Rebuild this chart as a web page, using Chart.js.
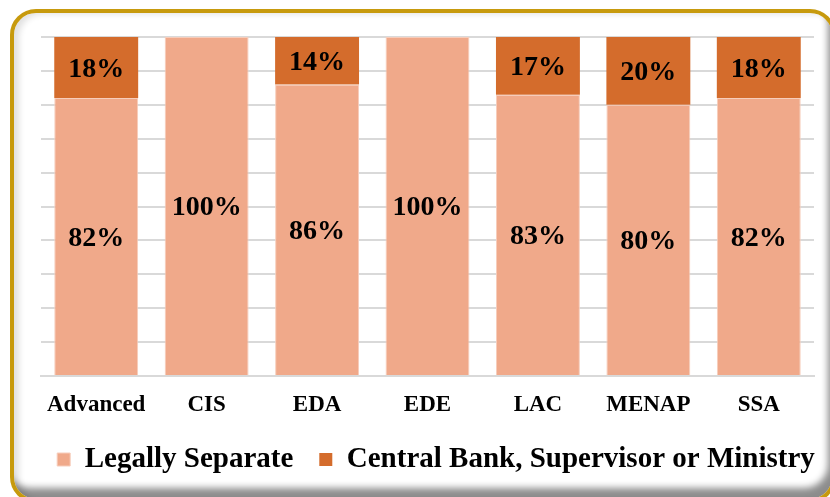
<!DOCTYPE html>
<html>
<head>
<meta charset="utf-8">
<script src="https://cdn.jsdelivr.net/npm/chart.js@4"></script>
<style>
  body { margin: 0; background: #fff; overflow: hidden; }
  .frame {
    position: absolute; left: 10px; top: 9px; width: 826px; height: 494px;
    box-sizing: border-box;
    border: 4px solid #C79A0D; border-radius: 26px;
    box-shadow: inset -6px -13px 7px -2px rgba(0,0,0,0.45), inset 6px 2px 6px -1px rgba(0,0,0,0.12);
  }
  #chart { position: absolute; left: 0; top: 0; }
</style>
</head>
<body>
<div class="frame"></div>
<canvas id="chart" width="830" height="497"></canvas>
<script>
const regions = ['Advanced', 'CIS', 'EDA', 'EDE', 'LAC', 'MENAP', 'SSA'];
const legallySeparate = [82, 100, 86, 100, 83, 80, 82];
const centralBank = [18, 0, 14, 0, 17, 20, 18];

const serif = '"Liberation Serif", "Times New Roman", serif';

// draws the percentage in the middle of each segment
const barLabels = {
  id: 'barLabels',
  afterDatasetsDraw(chart) {
    const c = chart.ctx;
    c.save();
    c.font = 'bold 28px ' + serif;
    c.fillStyle = '#000';
    c.textAlign = 'center';
    c.textBaseline = 'middle';
    chart.data.datasets.forEach((ds, i) => {
      chart.getDatasetMeta(i).data.forEach((bar, j) => {
        const v = ds.data[j];
        if (!v) return;
        c.fillText(v + '%', bar.x, (bar.y + bar.base) / 2 + 2);
      });
    });
    c.restore();
  }
};

// nudge the legend to the right so it sits like the original
const legendShift = {
  id: 'legendShift',
  afterLayout(chart) {
    chart.legend.left += 29;
    chart.legend.right += 29;
  }
};

new Chart(document.getElementById('chart').getContext('2d'), {
  type: 'bar',
  data: {
    labels: regions,
    datasets: [
      {
        label: 'Legally Separate',
        data: legallySeparate,
        backgroundColor: '#F0A98A',
        borderColor: '#F7CDBB',
        borderWidth: 1,
        categoryPercentage: 1,
        barPercentage: 0.76
      },
      {
        label: 'Central Bank, Supervisor or Ministry',
        data: centralBank,
        backgroundColor: '#D46C2C',
        categoryPercentage: 1,
        barPercentage: 0.76
      }
    ]
  },
  options: {
    responsive: false,
    animation: false,
    layout: { padding: { left: 0, right: 16, top: 37, bottom: 13 } },
    plugins: {
      tooltip: { enabled: false },
      legend: {
        position: 'bottom',
        labels: {
          font: { family: serif, size: 29, weight: 'bold' },
          color: '#000',
          boxWidth: 13,
          boxHeight: 13,
          padding: 26
        }
      }
    },
    scales: {
      x: {
        stacked: true,
        clip: false,
        grid: { display: false, drawTicks: false },
        border: { color: '#D9D9D9', width: 2 },
        ticks: {
          font: { family: serif, size: 23, weight: 'bold' },
          color: '#000',
          padding: 15
        },
        afterFit: (scale) => { scale.height = 43; }
      },
      y: {
        stacked: true,
        min: 0,
        max: 100,
        ticks: { display: false, stepSize: 10 },
        grid: { color: '#D9D9D9', lineWidth: 2, drawTicks: false },
        border: { display: false },
        afterFit: (scale) => { scale.width = 41; }
      }
    }
  },
  plugins: [barLabels, legendShift]
});
</script>
</body>
</html>
